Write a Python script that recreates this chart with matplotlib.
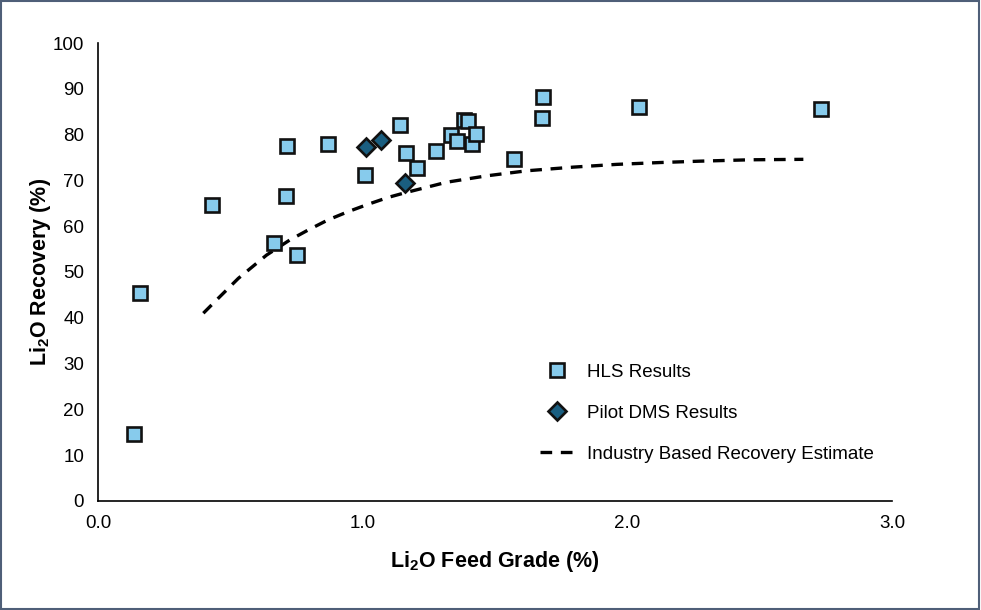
import numpy as np
import matplotlib.pyplot as plt
from matplotlib.patches import Rectangle

plt.rcParams['font.family'] = ['Liberation Sans', 'DejaVu Sans']
plt.rcParams['mathtext.fontset'] = 'custom'
plt.rcParams['mathtext.rm'] = 'Liberation Sans'
plt.rcParams['mathtext.bf'] = 'Liberation Sans:bold'
plt.rcParams['mathtext.default'] = 'bf'

## DATA
# HLS test results
hls_grade = [0.136, 0.159, 0.431, 0.665, 0.714, 0.710, 0.752, 0.869, 1.009, 1.141,
             1.164, 1.205, 1.277, 1.334, 1.356, 1.383, 1.398, 1.413, 1.428, 1.572,
             1.678, 1.681, 2.044, 2.732]
hls_recovery = [14.6, 45.4, 64.6, 56.3, 77.5, 66.6, 53.7, 77.9, 71.2, 82.1,
                76.0, 72.7, 76.4, 79.9, 78.6, 83.2, 83.0, 77.9, 80.1, 74.7,
                83.6, 88.2, 86.0, 85.6]

# pilot DMS results
dms_grade = [1.011, 1.071, 1.161]
dms_recovery = [77.4, 78.9, 69.4]

# industry based recovery estimate (curve read at points)
est_grade = [0.398, 0.455, 0.530, 0.637, 0.725, 0.795, 0.870, 0.946, 1.021, 1.097,
             1.160, 1.317, 1.469, 1.620, 1.796, 1.960, 2.123, 2.274, 2.463, 2.665]
est_recovery = [41.0, 44.3, 48.6, 53.7, 57.0, 59.2, 61.4, 63.2, 64.8, 66.3,
                67.3, 69.6, 71.0, 72.1, 72.9, 73.5, 73.9, 74.2, 74.5, 74.6]

x_ticks = [0.0, 1.0, 2.0, 3.0]
y_ticks = np.arange(0, 101, 10)

## PLOT
fig = plt.figure(figsize=(9.81, 6.10), dpi=100)
ax = fig.add_axes([0.0999, 0.1787, 0.8094, 0.7508])

ax.plot(hls_grade, hls_recovery, 's', ms=9.8, mfc='#87CBEC', mec='#111111',
        mew=1.9, label='HLS Results', zorder=3)
ax.plot(dms_grade, dms_recovery, 'D', ms=9.2, mfc='#1A5E80', mec='#111111',
        mew=1.9, label='Pilot DMS Results', zorder=4)
ax.plot(est_grade, est_recovery, color='black', lw=2.4, dashes=(3.5, 2.6),
        label='Industry Based Recovery Estimate', zorder=2)

ax.set_xlim(0, 3)
ax.set_ylim(0, 100)
ax.set_xticks(x_ticks)
ax.set_xticklabels([f'{t:.1f}' for t in x_ticks])
ax.set_yticks(y_ticks)
ax.tick_params(length=0, labelsize=13.5, colors='black', pad=10)

for s in ['top', 'right']:
    ax.spines[s].set_visible(False)
for s in ['left', 'bottom']:
    ax.spines[s].set_linewidth(1.2)
    ax.spines[s].set_color('black')

ax.set_xlabel(r'Li$_2$O Feed Grade (%)', fontsize=15.5, fontweight='bold', labelpad=12)
ax.set_ylabel(r'Li$_2$O Recovery (%)', fontsize=15.5, fontweight='bold', labelpad=0)

leg = ax.legend(loc='upper left', bbox_to_anchor=(0.535, 0.337), frameon=False,
                fontsize=13.5, labelspacing=1.27, handlelength=1.8, handletextpad=0.7)

# grey-blue frame round the whole picture
fig.patches.append(Rectangle((0.001, 0.002), 0.997, 0.996, transform=fig.transFigure,
                             fill=False, edgecolor='#4F5F78', linewidth=1.5))

fig.savefig('out.png', dpi=100)
